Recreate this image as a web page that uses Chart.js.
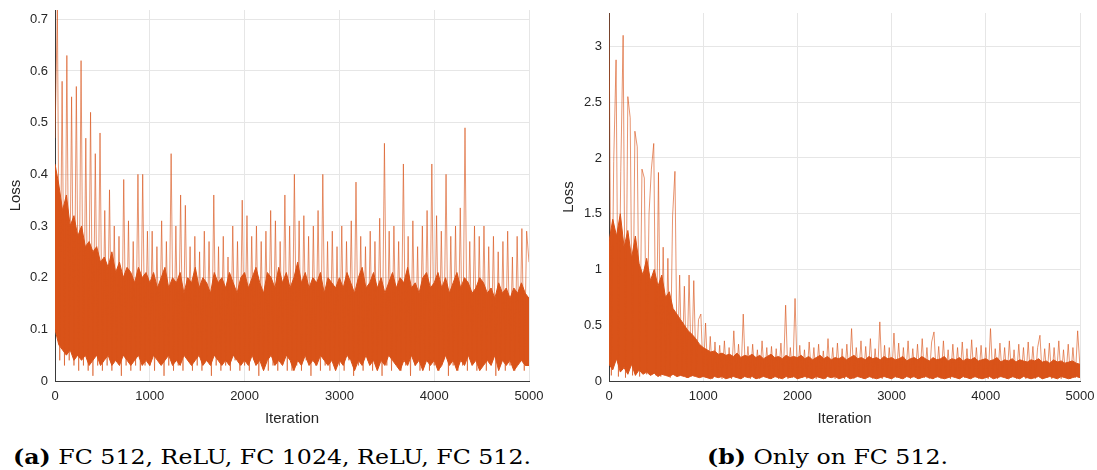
<!DOCTYPE html>
<html>
<head>
<meta charset="utf-8">
<script src="https://cdn.jsdelivr.net/npm/chart.js@4.4.1/dist/chart.umd.min.js"></script>
<style>
  html, body { margin: 0; padding: 0; background: #fff; }
  body { width: 1097px; height: 470px; position: relative; overflow: hidden; }
  .wrap { position: absolute; top: 0; overflow: hidden; }
  .cap { position: absolute; font-family: "DejaVu Serif", serif; font-size: 20px; line-height: 20px; color: #000; white-space: nowrap; transform-origin: 0 0; }
</style>
</head>
<body>
<div class="wrap" id="w1" style="left:0;width:543px;height:430px;"><canvas id="c1" width="560" height="430"></canvas></div>
<div class="wrap" id="w2" style="left:553px;width:544px;height:430px;"><canvas id="c2" width="544" height="430"></canvas></div>
<div class="cap" id="capA" style="left:13px;top:447px;"><b>(a)</b> FC 512, ReLU, FC 1024, ReLU, FC 512.</div>
<div class="cap" id="capB" style="left:707px;top:447px;"><b>(b)</b> Only on FC 512.</div>
<script>
// ---- data ----
// excursions of the loss (one reading every 25 iterations)
const SPIKE_STEP = 25;
const spikesA = [
  0.47, 0.72, 0.04, 0.58, 0.03, 0.63, 0.04, 0.55, 0.03, 0.57, 0.02, 0.62, 0.03, 0.47, 0.02, 0.52, 0.01, 0.44, 0.03, 0.48,
  0.02, 0.33, 0.03, 0.37, 0.02, 0.30, 0.04, 0.28, 0.01, 0.39, 0.03, 0.31, 0.02, 0.27, 0.03, 0.40, 0.02, 0.40, 0.03, 0.29,
  0.03, 0.29, 0.02, 0.26, 0.04, 0.31, 0.01, 0.27, 0.03, 0.44, 0.02, 0.30, 0.03, 0.36, 0.02, 0.34, 0.04, 0.26, 0.02, 0.28,
  0.03, 0.25, 0.02, 0.29, 0.04, 0.27, 0.01, 0.36, 0.03, 0.26, 0.02, 0.28, 0.03, 0.24, 0.02, 0.30, 0.04, 0.27, 0.02, 0.35,
  0.03, 0.32, 0.02, 0.28, 0.04, 0.30, 0.01, 0.27, 0.03, 0.29, 0.02, 0.33, 0.03, 0.31, 0.02, 0.27, 0.04, 0.36, 0.02, 0.30,
  0.02, 0.40, 0.03, 0.31, 0.02, 0.32, 0.04, 0.28, 0.01, 0.30, 0.03, 0.33, 0.02, 0.40, 0.03, 0.27, 0.02, 0.29, 0.04, 0.26,
  0.03, 0.30, 0.02, 0.27, 0.04, 0.31, 0.01, 0.385, 0.03, 0.28, 0.02, 0.26, 0.04, 0.29, 0.02, 0.27, 0.03, 0.315, 0.01, 0.46,
  0.03, 0.29, 0.02, 0.30, 0.04, 0.27, 0.02, 0.42, 0.03, 0.28, 0.01, 0.31, 0.03, 0.26, 0.02, 0.30, 0.04, 0.33, 0.02, 0.42,
  0.03, 0.32, 0.02, 0.29, 0.04, 0.40, 0.01, 0.28, 0.03, 0.30, 0.02, 0.335, 0.03, 0.49, 0.02, 0.27, 0.04, 0.30, 0.02, 0.28,
  0.03, 0.30, 0.02, 0.26, 0.04, 0.28, 0.01, 0.25, 0.03, 0.27, 0.02, 0.29, 0.03, 0.24, 0.02, 0.28, 0.04, 0.295, 0.02, 0.29,
  0.23
];
const spikesB = [
  3.3, 0.05, 1.97, 2.88, 0.04, 1.88, 3.1, 0.03, 2.55, 2.36, 0.05, 2.24, 2.1, 0.04, 1.9, 1.82, 0.06, 1.5, 1.9, 2.13,
  0.05, 1.87, 0.04, 1.2, 0.06, 1.1, 0.03, 1.48, 1.88, 0.04, 0.95, 0.05, 0.85, 0.03, 0.95, 0.04, 0.9, 0.05, 0.55, 0.6,
  0.04, 0.52, 0.03, 0.4, 0.02, 0.35, 0.04, 0.32, 0.02, 0.36, 0.03, 0.3, 0.02, 0.45, 0.03, 0.33, 0.02, 0.6, 0.04, 0.31,
  0.02, 0.33, 0.03, 0.28, 0.02, 0.36, 0.04, 0.3, 0.02, 0.31, 0.03, 0.29, 0.02, 0.34, 0.03, 0.68, 0.02, 0.3, 0.03, 0.74,
  0.02, 0.32, 0.03, 0.28, 0.02, 0.35, 0.04, 0.3, 0.02, 0.33, 0.03, 0.27, 0.02, 0.38, 0.03, 0.3, 0.02, 0.34, 0.03, 0.29,
  0.02, 0.33, 0.03, 0.47, 0.02, 0.3, 0.04, 0.36, 0.02, 0.31, 0.03, 0.38, 0.02, 0.29, 0.03, 0.53, 0.02, 0.32, 0.03, 0.3,
  0.02, 0.43, 0.03, 0.34, 0.02, 0.3, 0.04, 0.36, 0.02, 0.29, 0.03, 0.33, 0.02, 0.38, 0.03, 0.3, 0.02, 0.35, 0.44, 0.03,
  0.31, 0.02, 0.36, 0.03, 0.28, 0.02, 0.33, 0.04, 0.3, 0.02, 0.35, 0.03, 0.29, 0.02, 0.37, 0.03, 0.3, 0.02, 0.32, 0.03,
  0.3, 0.02, 0.47, 0.03, 0.29, 0.02, 0.34, 0.04, 0.3, 0.02, 0.36, 0.03, 0.28, 0.02, 0.33, 0.03, 0.3, 0.02, 0.35, 0.03,
  0.31, 0.02, 0.3, 0.41, 0.02, 0.29, 0.03, 0.34, 0.02, 0.3, 0.03, 0.36, 0.02, 0.28, 0.03, 0.33, 0.02, 0.3, 0.03, 0.45,
  0.12
];
// upper and lower edges of the dense body of the curve (one reading every 40 iterations)
const EDGE_STEP = 40;
const topA = [
  0.42, 0.38, 0.33, 0.36, 0.30, 0.32, 0.28, 0.30, 0.26, 0.27, 0.25, 0.26, 0.23, 0.24, 0.22, 0.25, 0.21, 0.23, 0.20, 0.22, 0.21, 0.19, 0.22, 0.20, 0.21,
  0.19, 0.21, 0.18, 0.20, 0.22, 0.18, 0.20, 0.19, 0.21, 0.17, 0.20, 0.19, 0.22, 0.18, 0.20, 0.19, 0.17, 0.21, 0.19, 0.20, 0.18, 0.21, 0.19, 0.17, 0.20,
  0.21, 0.18, 0.20, 0.22, 0.19, 0.17, 0.21, 0.20, 0.18, 0.22, 0.19, 0.21, 0.18, 0.20, 0.23, 0.19, 0.21, 0.18, 0.20, 0.19, 0.21, 0.17, 0.20, 0.19, 0.18,
  0.20, 0.18, 0.21, 0.19, 0.17, 0.20, 0.22, 0.18, 0.19, 0.21, 0.18, 0.20, 0.17, 0.19, 0.21, 0.18, 0.20, 0.19, 0.22, 0.18, 0.19, 0.17, 0.20, 0.21, 0.18,
  0.19, 0.21, 0.18, 0.20, 0.17, 0.19, 0.21, 0.18, 0.20, 0.19, 0.17, 0.18, 0.20, 0.19, 0.17, 0.18, 0.16, 0.19, 0.17, 0.18, 0.16, 0.18, 0.17, 0.19, 0.17,
  0.16
];
const bottomA = [
  0.10, 0.07, 0.06, 0.05, 0.06, 0.04, 0.05, 0.04, 0.05, 0.03, 0.04, 0.05, 0.03, 0.04, 0.05, 0.03, 0.04, 0.03, 0.05, 0.04, 0.03, 0.04, 0.05, 0.03, 0.04,
  0.03, 0.05, 0.04, 0.03, 0.04, 0.05, 0.03, 0.04, 0.03, 0.05, 0.04, 0.03, 0.04, 0.05, 0.03, 0.04, 0.03, 0.05, 0.04, 0.03, 0.04, 0.03, 0.05, 0.04, 0.03,
  0.04, 0.03, 0.05, 0.03, 0.04, 0.02, 0.04, 0.05, 0.03, 0.04, 0.03, 0.05, 0.04, 0.02, 0.04, 0.03, 0.05, 0.03, 0.04, 0.03, 0.05, 0.04, 0.03, 0.04, 0.02,
  0.04, 0.03, 0.05, 0.04, 0.02, 0.04, 0.03, 0.05, 0.03, 0.04, 0.02, 0.04, 0.03, 0.05, 0.04, 0.03, 0.02, 0.04, 0.03, 0.05, 0.03, 0.04, 0.02, 0.04, 0.03,
  0.04, 0.02, 0.03, 0.05, 0.03, 0.04, 0.02, 0.04, 0.03, 0.05, 0.03, 0.04, 0.02, 0.03, 0.04, 0.03, 0.05, 0.02, 0.04, 0.03, 0.04, 0.02, 0.03, 0.04, 0.03,
  0.03
];
const topB = [
  1.25, 1.45, 1.30, 1.50, 1.20, 1.35, 1.10, 1.30, 1.05, 0.95, 1.10, 0.90, 1.00, 0.85, 0.95, 0.75, 0.80, 0.65, 0.60, 0.55, 0.50, 0.45, 0.42, 0.38, 0.33,
  0.30, 0.28, 0.26, 0.27, 0.24, 0.25, 0.23, 0.24, 0.22, 0.25, 0.21, 0.23, 0.22, 0.24, 0.21, 0.23, 0.20, 0.22, 0.24, 0.21, 0.22, 0.20, 0.23, 0.21, 0.22,
  0.21, 0.23, 0.20, 0.22, 0.19, 0.21, 0.23, 0.20, 0.22, 0.19, 0.21, 0.20, 0.22, 0.19, 0.21, 0.23, 0.20, 0.21, 0.19, 0.22, 0.20, 0.21, 0.19, 0.22, 0.20,
  0.21, 0.19, 0.20, 0.22, 0.18, 0.20, 0.21, 0.19, 0.22, 0.20, 0.18, 0.21, 0.19, 0.20, 0.22, 0.18, 0.20, 0.19, 0.21, 0.18, 0.20, 0.19, 0.21, 0.18, 0.19,
  0.20, 0.18, 0.19, 0.21, 0.17, 0.19, 0.18, 0.20, 0.17, 0.19, 0.18, 0.17, 0.19, 0.18, 0.20, 0.17, 0.18, 0.16, 0.19, 0.17, 0.18, 0.16, 0.17, 0.18, 0.16,
  0.15
];
const bottomB = [
  0.15, 0.10, 0.20, 0.08, 0.12, 0.06, 0.15, 0.05, 0.10, 0.06, 0.08, 0.05, 0.07, 0.04, 0.06, 0.05, 0.04, 0.06, 0.04, 0.05, 0.04, 0.03, 0.05, 0.04, 0.03,
  0.04, 0.03, 0.02, 0.04, 0.03, 0.04, 0.02, 0.03, 0.04, 0.03, 0.02, 0.04, 0.03, 0.04, 0.02, 0.03, 0.04, 0.03, 0.02, 0.04, 0.03, 0.02, 0.04, 0.03, 0.04,
  0.02, 0.03, 0.04, 0.03, 0.02, 0.04, 0.03, 0.02, 0.04, 0.03, 0.04, 0.02, 0.03, 0.04, 0.02, 0.03, 0.04, 0.03, 0.02, 0.04, 0.03, 0.02, 0.03, 0.04, 0.03,
  0.02, 0.04, 0.03, 0.02, 0.04, 0.03, 0.04, 0.02, 0.03, 0.04, 0.03, 0.02, 0.04, 0.03, 0.02, 0.03, 0.04, 0.03, 0.02, 0.04, 0.03, 0.02, 0.04, 0.03, 0.02,
  0.03, 0.04, 0.02, 0.03, 0.04, 0.03, 0.02, 0.04, 0.03, 0.02, 0.04, 0.03, 0.02, 0.03, 0.04, 0.02, 0.03, 0.04, 0.03, 0.02, 0.04, 0.03, 0.02, 0.03, 0.04,
  0.03
];
const xTicks  = [0, 1000, 2000, 3000, 4000, 5000];
const yTicksA = [0, 0.1, 0.2, 0.3, 0.4, 0.5, 0.6, 0.7];
const yTicksB = [0, 0.5, 1, 1.5, 2, 2.5, 3];
const xLabel = 'Iteration';
const yLabel = 'Loss';

// ---- styling ----
const ORANGE = '#D95319';
const ORANGE_T = 'rgba(217,83,25,0.62)';
const TXT = '#262626';
const GRID = '#e6e6e6';
const FONT = '"Liberation Sans", Arial, sans-serif';

function pts(arr, step) { return arr.map((v, i) => ({ x: i * step, y: v })); }

function makeChart(id, spikes, top, bottom, yTicks, yMax, yWidth, pad) {
  const fmt = v => String(+Number(v).toFixed(2));
  return new Chart(document.getElementById(id), {
    type: 'line',
    data: {
      datasets: [
        { data: pts(spikes, SPIKE_STEP), borderColor: ORANGE_T, borderWidth: 1, pointRadius: 0, tension: 0, fill: false },
        { data: pts(top, EDGE_STEP), borderColor: ORANGE, borderWidth: 1, pointRadius: 0, tension: 0, fill: 2, backgroundColor: ORANGE },
        { data: pts(bottom, EDGE_STEP), borderColor: ORANGE, borderWidth: 1, pointRadius: 0, tension: 0, fill: false }
      ]
    },
    options: {
      responsive: false,
      animation: false,
      devicePixelRatio: 1,
      layout: { padding: pad },
      plugins: { legend: { display: false }, tooltip: { enabled: false } },
      scales: {
        x: {
          type: 'linear', min: 0, max: 5000,
          afterBuildTicks: s => { s.ticks = xTicks.map(v => ({ value: v })); },
          afterFit: s => { s.height = 49; s.paddingLeft = 0; s.paddingRight = 0; },
          ticks: { color: TXT, font: { family: FONT, size: 13 }, padding: 8, maxRotation: 0, autoSkip: false, callback: fmt },
          grid: { color: GRID, drawTicks: false, lineWidth: 1 },
          border: { display: true, color: '#3a3a3a', width: 1 },
          title: { display: true, text: xLabel, color: TXT, font: { family: FONT, size: 15 }, padding: { top: 0, bottom: 2 } }
        },
        y: {
          type: 'linear', min: 0, max: yMax,
          afterBuildTicks: s => { s.ticks = yTicks.map(v => ({ value: v })); },
          afterFit: s => { s.width = yWidth; s.paddingTop = 0; s.paddingBottom = 0; },
          ticks: { color: TXT, font: { family: FONT, size: 13 }, padding: 7, autoSkip: false, callback: fmt },
          grid: { color: GRID, drawTicks: false, lineWidth: 1 },
          border: { display: true, color: '#3a3a3a', width: 1 },
          title: { display: true, text: yLabel, color: TXT, font: { family: FONT, size: 15 }, padding: { top: 6.5, bottom: 0 } }
        }
      }
    }
  });
}

makeChart('c1', spikesA, topA, bottomA, yTicksA, 0.718, 55, { top: 10, right: 31, left: 0, bottom: 0 });
makeChart('c2', spikesB, topB, bottomB, yTicksB, 3.3, 56, { top: 13, right: 17, left: 0, bottom: 0 });

// fit captions to the reference widths
function fitCap(id, w) {
  const el = document.getElementById(id);
  const r = el.getBoundingClientRect().width;
  if (r > 0) el.style.transform = 'scaleX(' + (w / r) + ')';
}
fitCap('capA', 518);
fitCap('capB', 241);
</script>
</body>
</html>
